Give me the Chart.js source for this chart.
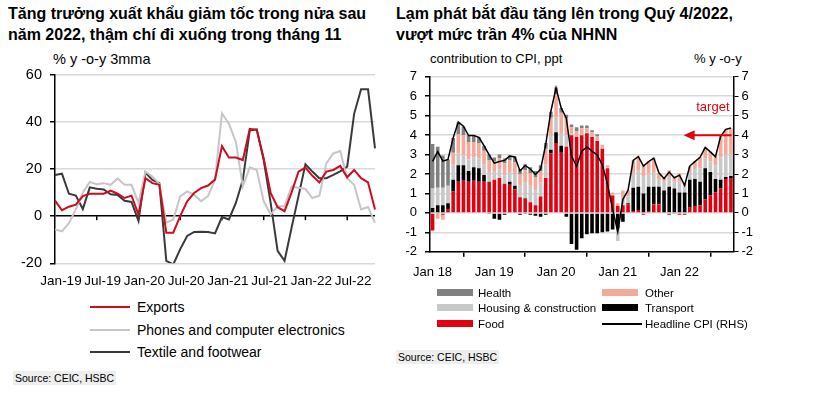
<!DOCTYPE html>
<html>
<head>
<meta charset="utf-8">
<script src="https://cdn.jsdelivr.net/npm/chart.js@4.4.1/dist/chart.umd.min.js"></script>
<style>
    body { margin: 0; width: 838px; height: 394px; background: #fff; position: relative; overflow: hidden;
           font-family: 'Liberation Sans', Arial, sans-serif; color: #000; }
    .abs { position: absolute; white-space: nowrap; }
    .title { font-weight: bold; font-size: 16px; line-height: 21px; top: 3px; }
    .unit { top: 51px; line-height: 16px; }
    .source { font-size: 10.5px; background: #eeeeee; padding: 1px 2px; }
    .legend-row { position: absolute; height: 16px; }
    .legend-row span { position: absolute; white-space: nowrap; line-height: 16px; top: 0; }
    .lline { position: absolute; height: 2px; width: 40px; top: 7px; }
    .swatch { position: absolute; width: 36px; height: 7px; top: 4px; }
    canvas { position: absolute; }
</style>
</head>
<body>

<div class="abs title" style="left:8px;">Tăng trưởng xuất khẩu giảm tốc trong nửa sau<br>năm 2022, thậm chí đi xuống trong tháng 11</div>
<div class="abs title" style="left:396px;">Lạm phát bắt đầu tăng lên trong Quý 4/2022,<br>vượt mức trần 4% của NHNN</div>

<div class="abs unit" style="left:53px; font-size:14.5px;">% y -o-y 3mma</div>
<div class="abs unit" style="left:430px; font-size:13px;">contribution to CPI, ppt</div>
<div class="abs unit" style="left:694px; font-size:13px;">% y -o-y</div>

<canvas id="exportChart" width="400" height="232" style="left:0; top:58px;"></canvas>
<canvas id="cpiChart" width="380" height="222" style="left:395px; top:61px;"></canvas>

<div id="exportLegend"></div>
<div id="cpiLegend"></div>

<div class="abs source" style="left:13px; top:371px;">Source: CEIC, HSBC</div>
<div class="abs source" style="left:396px; top:350px;">Source: CEIC, HSBC</div>

<script>
// ---- left chart: export growth, % y-o-y 3mma ----
const exportMonths = [
    'Jan-19', 'Feb-19', 'Mar-19', 'Apr-19', 'May-19', 'Jun-19', 'Jul-19', 'Aug-19', 'Sep-19', 'Oct-19', 'Nov-19', 'Dec-19',
    'Jan-20', 'Feb-20', 'Mar-20', 'Apr-20', 'May-20', 'Jun-20', 'Jul-20', 'Aug-20', 'Sep-20', 'Oct-20', 'Nov-20', 'Dec-20',
    'Jan-21', 'Feb-21', 'Mar-21', 'Apr-21', 'May-21', 'Jun-21', 'Jul-21', 'Aug-21', 'Sep-21', 'Oct-21', 'Nov-21', 'Dec-21',
    'Jan-22', 'Feb-22', 'Mar-22', 'Apr-22', 'May-22', 'Jun-22', 'Jul-22', 'Aug-22', 'Sep-22', 'Oct-22', 'Nov-22'
];
const exportsGrowth = [
    6.6, 2.5, 4, 4.9, 8.5, 9.5, 9.5, 9.5, 10.8, 9.5, 7.7, 8.7,
    0.7, 16.1, 14, 13.3, -7, -7, 0, 6.3, 9.8, 11.9, 13, 15.5,
    29.7, 24.9, 24.9, 23.8, 37, 36.6, 24.5, 9.8, 3.8, 2.1, 10, 18.9,
    20.6, 17.1, 14.3, 18.9, 19.6, 21.3, 16.5, 19.6, 16.1, 14.3, 2.8
];
const phonesGrowth = [
    -5.6, -6.5, -3, 3, 10, 14.5, 13.5, 14, 13.3, 16, 13.3, 13.3,
    5.6, 18.9, 16.8, 13.7, -2.8, -1.4, 8.4, 10.5, 9.1, 6.3, 8.5, 15.4,
    43.6, 39.2, 31.5, 12.6, 20.7, 19.6, 6.3, 0.7, 4.2, 4.2, 12.6, 12,
    11.5, 7.7, 8.7, 22.4, 26.6, 27.6, 16.1, 13.3, 2.8, 3.9, -2.8
];
const textileGrowth = [
    17.5, 18, 9.5, 8.7, 3, 12.2, 11.6, 11.3, 9.3, 9, 6.5, 6,
    -2, 18.5, 15.4, 14, -19, -20.5, -14, -8.4, -6.7, -6.6, -6.7, -7.3,
    -0.4, -1.4, 5.6, 15.4, 36.4, 36.8, 23.8, 5.6, -14.7, -18.9, -5, 8.5,
    22, 18.9, 16.1, 16.1, 17.5, 19, 21, 43.4, 53.8, 53.8, 28.7
];
const exportTicks = [-20, 0, 20, 40, 60];

// ---- right chart: contribution to CPI, ppt ----
const cpiMonths = [
    'Jan 18', 'Feb 18', 'Mar 18', 'Apr 18', 'May 18', 'Jun 18', 'Jul 18', 'Aug 18', 'Sep 18', 'Oct 18', 'Nov 18', 'Dec 18',
    'Jan 19', 'Feb 19', 'Mar 19', 'Apr 19', 'May 19', 'Jun 19', 'Jul 19', 'Aug 19', 'Sep 19', 'Oct 19', 'Nov 19', 'Dec 19',
    'Jan 20', 'Feb 20', 'Mar 20', 'Apr 20', 'May 20', 'Jun 20', 'Jul 20', 'Aug 20', 'Sep 20', 'Oct 20', 'Nov 20', 'Dec 20',
    'Jan 21', 'Feb 21', 'Mar 21', 'Apr 21', 'May 21', 'Jun 21', 'Jul 21', 'Aug 21', 'Sep 21', 'Oct 21', 'Nov 21', 'Dec 21',
    'Jan 22', 'Feb 22', 'Mar 22', 'Apr 22', 'May 22', 'Jun 22', 'Jul 22', 'Aug 22', 'Sep 22', 'Oct 22', 'Nov 22'
];
const food = [
    -0.9, -0.05, -0.1, 0.2, 1.1, 1.6, 1.65, 1.6, 1.65, 1.6, 1.6, 1.6,
    1.7, 1.8, 1.5, 1.45, 1.2, 0.8, 0.75, 0.55, 0.4, 0.85, 1.8, 3.05,
    3.6, 3.1, 3.4, 4.0, 3.9, 4.0, 4.1, 3.9, 3.7, 3.3, 2.3, 0.9,
    0.35, 0.4, 0.45, 0.1, 0.15, -0.1, 0.1, 0.45, 0.45, 0.0, -0.1, -0.05,
    -0.1, -0.1, 0.3, 0.35, 0.4, 0.7, 0.9, 1.05, 1.25, 1.75, 1.8
];
const transport = [
    0.25, 0.4, 0.4, 0.3, 0.6, 0.85, 0.8, 0.55, 0.7, 0.7, 0.35, -0.05,
    -0.3, -0.35, -0.1, 0.15, 0.2, -0.1, -0.05, -0.1, -0.15, -0.2, -0.1, 0.2,
    0.55, 0.35, -0.2, -1.6, -1.9, -1.3, -1.1, -1.05, -1.05, -1.0, -0.95, -0.85,
    -0.8, -0.45, 0.05, 1.2, 1.2, 1.0, 1.25, 0.9, 0.9, 1.15, 1.35, 1.25,
    1.05, 1.05, 1.4, 1.4, 1.2, 1.6, 1.2, 0.7, 0.45, 0.1, 0.1
];
const housing = [
    1.0, 0.9, 0.9, 0.9, 0.8, 0.6, 0.55, 0.6, 0.5, 0.5, 0.55, 0.5,
    0.45, 0.45, 0.5, 0.5, 0.6, 0.6, 0.8, 0.85, 0.75, 0.7, 0.7, 0.7,
    0.75, 0.6, 0.6, 0.1, 0.0, 0.05, 0.05, 0.05, 0.05, 0.05, 0.05, 0.05,
    -0.65, 0.4, 0.35, 0.75, 0.85, 0.9, 0.7, 0.75, 0.35, 0.45, 0.5, 0.35,
    0.55, 0.3, 0.4, 0.5, 0.7, 0.5, 0.55, 0.7, 1.15, 1.15, 1.1
];
const other = [
    0, -0.25, -0.25, 0, 0.6, 1.0, 1.0, 0.9, 0.8, 0.8, 0.7, 0.6,
    0.5, 0.55, 0.55, 0.6, 0.6, 0.6, 0.65, 0.65, 0.7, 0.6, 0.8, 0.95,
    1.2, 1.1, 0.85, 0.3, 0.3, 0.3, 0.2, 0.2, 0.2, 0.15, 0.1, 0.1,
    0.15, 0.35, 0.3, 0.65, 0.7, 0.6, 0.6, 0.7, 0.35, 0.2, 0.35, 0.25,
    0.45, 0.2, 0.3, 0.4, 0.55, 0.55, 0.5, 0.45, 1.1, 1.3, 1.35
];
const health = [
    2.3, 2.1, 1.65, 1.35, 0.75, 0.6, 0.45, 0.35, 0.35, 0.3, 0.25, 0.3,
    0.2, 0.2, 0.25, 0.25, 0.3, 0.25, 0.3, 0.3, 0.3, 0.3, 0.3, 0.3,
    0.35, 0.25, 0.2, 0.15, 0.2, 0.15, 0.15, 0.1, 0.1, 0, 0, 0,
    0, 0, 0, 0, 0, 0, 0, 0, 0, 0, 0, 0,
    0, 0, 0, 0, 0, 0, 0, 0, 0, 0, 0
];
const headlineCpi = [
    2.65, 3.15, 2.66, 2.75, 3.86, 4.67, 4.46, 3.98, 3.98, 3.89, 3.46, 2.98,
    2.56, 2.64, 2.70, 2.93, 2.88, 2.16, 2.44, 2.26, 1.98, 2.24, 3.52, 5.23,
    6.43, 5.40, 4.87, 2.93, 2.40, 3.17, 3.39, 3.18, 2.98, 2.47, 1.48, 0.19,
    -0.97, 0.70, 1.16, 2.70, 2.90, 2.41, 2.64, 2.82, 2.06, 1.77, 2.10, 1.81,
    1.94, 1.42, 2.41, 2.64, 2.86, 3.37, 3.14, 2.89, 3.94, 4.30, 4.37
];
const cpiTarget = 4;
const targetArrowFrom = 'Feb 22';
const targetLabelLevel = 5.4;

const RED = '#e3000f';
const FONT = "'Liberation Sans', Arial, sans-serif";

// small tick marks on the zero line of the export chart
const zeroLineTicks = {
    id: 'zeroLineTicks',
    beforeDatasetsDraw(chart) {
        const { ctx, scales } = chart;
        const y0 = scales.y.getPixelForValue(0);
        ctx.save();
        ctx.strokeStyle = '#000';
        ctx.lineWidth = 1.5;
        exportMonths.forEach((m, i) => {
            if (i === 0 || i % 6 !== 0) return;
            const x = scales.x.getPixelForValue(i);
            ctx.beginPath();
            ctx.moveTo(x, y0);
            ctx.lineTo(x, y0 + 4);
            ctx.stroke();
        });
        ctx.restore();
    }
};

// red "target" arrow at the 4% ceiling
const targetArrow = {
    id: 'targetArrow',
    afterDatasetsDraw(chart) {
        const { ctx, chartArea, scales } = chart;
        const y = scales.y1.getPixelForValue(cpiTarget);
        const xHead = scales.x.getPixelForValue(cpiMonths.indexOf(targetArrowFrom));
        const xTail = chartArea.right - 2;
        ctx.save();
        ctx.strokeStyle = RED;
        ctx.fillStyle = RED;
        ctx.lineWidth = 2;
        ctx.beginPath();
        ctx.moveTo(xHead + 9, y);
        ctx.lineTo(xTail, y);
        ctx.stroke();
        ctx.beginPath();
        ctx.moveTo(xHead - 1, y);
        ctx.lineTo(xHead + 10, y - 5);
        ctx.lineTo(xHead + 10, y + 5);
        ctx.closePath();
        ctx.fill();
        ctx.font = '13px ' + FONT;
        ctx.textAlign = 'right';
        ctx.textBaseline = 'middle';
        ctx.fillText('target', chartArea.right - 4, scales.y1.getPixelForValue(targetLabelLevel));
        ctx.restore();
    }
};

new Chart(document.getElementById('exportChart'), {
    type: 'line',
    data: {
        labels: exportMonths,
        datasets: [
            { label: 'Exports', data: exportsGrowth, borderColor: '#cc0c20', borderWidth: 2 },
            { label: 'Phones and computer electronics', data: phonesGrowth, borderColor: '#c6c6c6', borderWidth: 2 },
            { label: 'Textile and footwear', data: textileGrowth, borderColor: '#3a3a3a', borderWidth: 2 }
        ]
    },
    options: {
        responsive: false,
        animation: false,
        elements: { point: { radius: 0 }, line: { tension: 0 } },
        layout: { padding: { top: 0, right: 25, left: 0, bottom: 0 } },
        plugins: { legend: { display: false }, tooltip: { enabled: false } },
        scales: {
            x: {
                grid: { display: false, drawTicks: false },
                border: { display: false },
                ticks: {
                    autoSkip: false, maxRotation: 0, minRotation: 0,
                    labelOffset: 6, padding: 10, color: '#000',
                    font: { family: FONT, size: 13.5 },
                    callback: (v, i) => (i % 6 === 0 ? exportMonths[i] : null)
                },
                afterFit: (s) => { s.height = 26.7; }
            },
            y: {
                min: exportTicks[0], max: exportTicks[exportTicks.length - 1],
                afterBuildTicks: (s) => { s.ticks = exportTicks.map(v => ({ value: v })); },
                grid: {
                    color: (c) => (c.tick && c.tick.value === 0 ? '#000' : '#d9d9d9'),
                    lineWidth: 1.5, tickColor: '#000', tickLength: 5
                },
                border: { color: '#000', width: 1.5 },
                ticks: { padding: 8, color: '#000', font: { family: FONT, size: 14.5 } },
                afterFit: (s) => { s.width = 55; }
            }
        }
    },
    plugins: [zeroLineTicks]
});

new Chart(document.getElementById('cpiChart'), {
    type: 'bar',
    data: {
        labels: cpiMonths,
        datasets: [
            { type: 'line', label: 'Headline CPI (RHS)', data: headlineCpi, yAxisID: 'y1', borderColor: '#000',
              borderWidth: 1.5, pointRadius: 0, tension: 0, order: 0 },
            { label: 'Food', data: food, backgroundColor: RED, order: 1 },
            { label: 'Transport', data: transport, backgroundColor: '#000000', order: 1 },
            { label: 'Housing & construction', data: housing, backgroundColor: '#c8c8c8', order: 1 },
            { label: 'Other', data: other, backgroundColor: '#f5a999', order: 1 },
            { label: 'Health', data: health, backgroundColor: '#808080', order: 1 }
        ]
    },
    options: {
        responsive: false,
        animation: false,
        datasets: { bar: { barPercentage: 0.7, categoryPercentage: 1 } },
        layout: { padding: { top: 0, right: 0, left: 0, bottom: 0 } },
        plugins: { legend: { display: false }, tooltip: { enabled: false } },
        scales: {
            x: {
                stacked: true, offset: true,
                grid: { offset: true, drawOnChartArea: false, color: '#000', tickLength: 5, lineWidth: 1.5 },
                border: { color: '#000', width: 1.5 },
                ticks: {
                    autoSkip: false, maxRotation: 0, minRotation: 0, padding: 8, color: '#000',
                    font: { family: FONT, size: 13 },
                    callback: (v, i) => (i % 12 === 0 ? cpiMonths[i] : null)
                },
                afterFit: (s) => { s.height = 31.2; }
            },
            y: {
                stacked: true, min: -2, max: 7,
                grid: { color: '#d9d9d9', lineWidth: 1.5, tickColor: '#000', tickLength: 5 },
                border: { color: '#000', width: 1.5 },
                ticks: { stepSize: 1, padding: 8, color: '#000', font: { family: FONT, size: 13 } },
                afterFit: (s) => { s.width = 35; }
            },
            y1: {
                position: 'right', min: -2, max: 7,
                grid: { drawOnChartArea: false, tickColor: '#000', tickLength: 5 },
                border: { color: '#000', width: 1.5 },
                ticks: { stepSize: 1, padding: 3, color: '#000', font: { family: FONT, size: 13 } },
                afterFit: (s) => { s.width = 41.5; }
            }
        }
    },
    plugins: [targetArrow]
});

// ---- legends ----
function addLegendRow(parentId, left, top, markClass, color, text, textLeft, fontSize) {
    const row = document.createElement('div');
    row.className = 'legend-row';
    row.style.left = left + 'px';
    row.style.top = top + 'px';
    row.innerHTML = `<div class="${markClass}" style="left:0;background:${color};"></div>` +
        `<span style="left:${textLeft}px;font-size:${fontSize}px;">${text}</span>`;
    document.getElementById(parentId).appendChild(row);
}

addLegendRow('exportLegend', 90, 299, 'lline', '#cc0c20', 'Exports', 47, 14);
addLegendRow('exportLegend', 90, 322, 'lline', '#c6c6c6', 'Phones and computer electronics', 47, 14);
addLegendRow('exportLegend', 90, 344, 'lline', '#3a3a3a', 'Textile and footwear', 47, 14);

addLegendRow('cpiLegend', 437, 285, 'swatch', '#808080', 'Health', 41, 11.5);
addLegendRow('cpiLegend', 437, 300, 'swatch', '#c8c8c8', 'Housing &amp; construction', 41, 11.5);
addLegendRow('cpiLegend', 437, 316, 'swatch', RED, 'Food', 41, 11.5);
addLegendRow('cpiLegend', 602, 285, 'swatch', '#f5a999', 'Other', 43, 11.5);
addLegendRow('cpiLegend', 602, 300, 'swatch', '#000000', 'Transport', 43, 11.5);
addLegendRow('cpiLegend', 602, 316, 'lline', '#000000', 'Headline CPI (RHS)', 43, 11.5);
</script>
</body>
</html>
